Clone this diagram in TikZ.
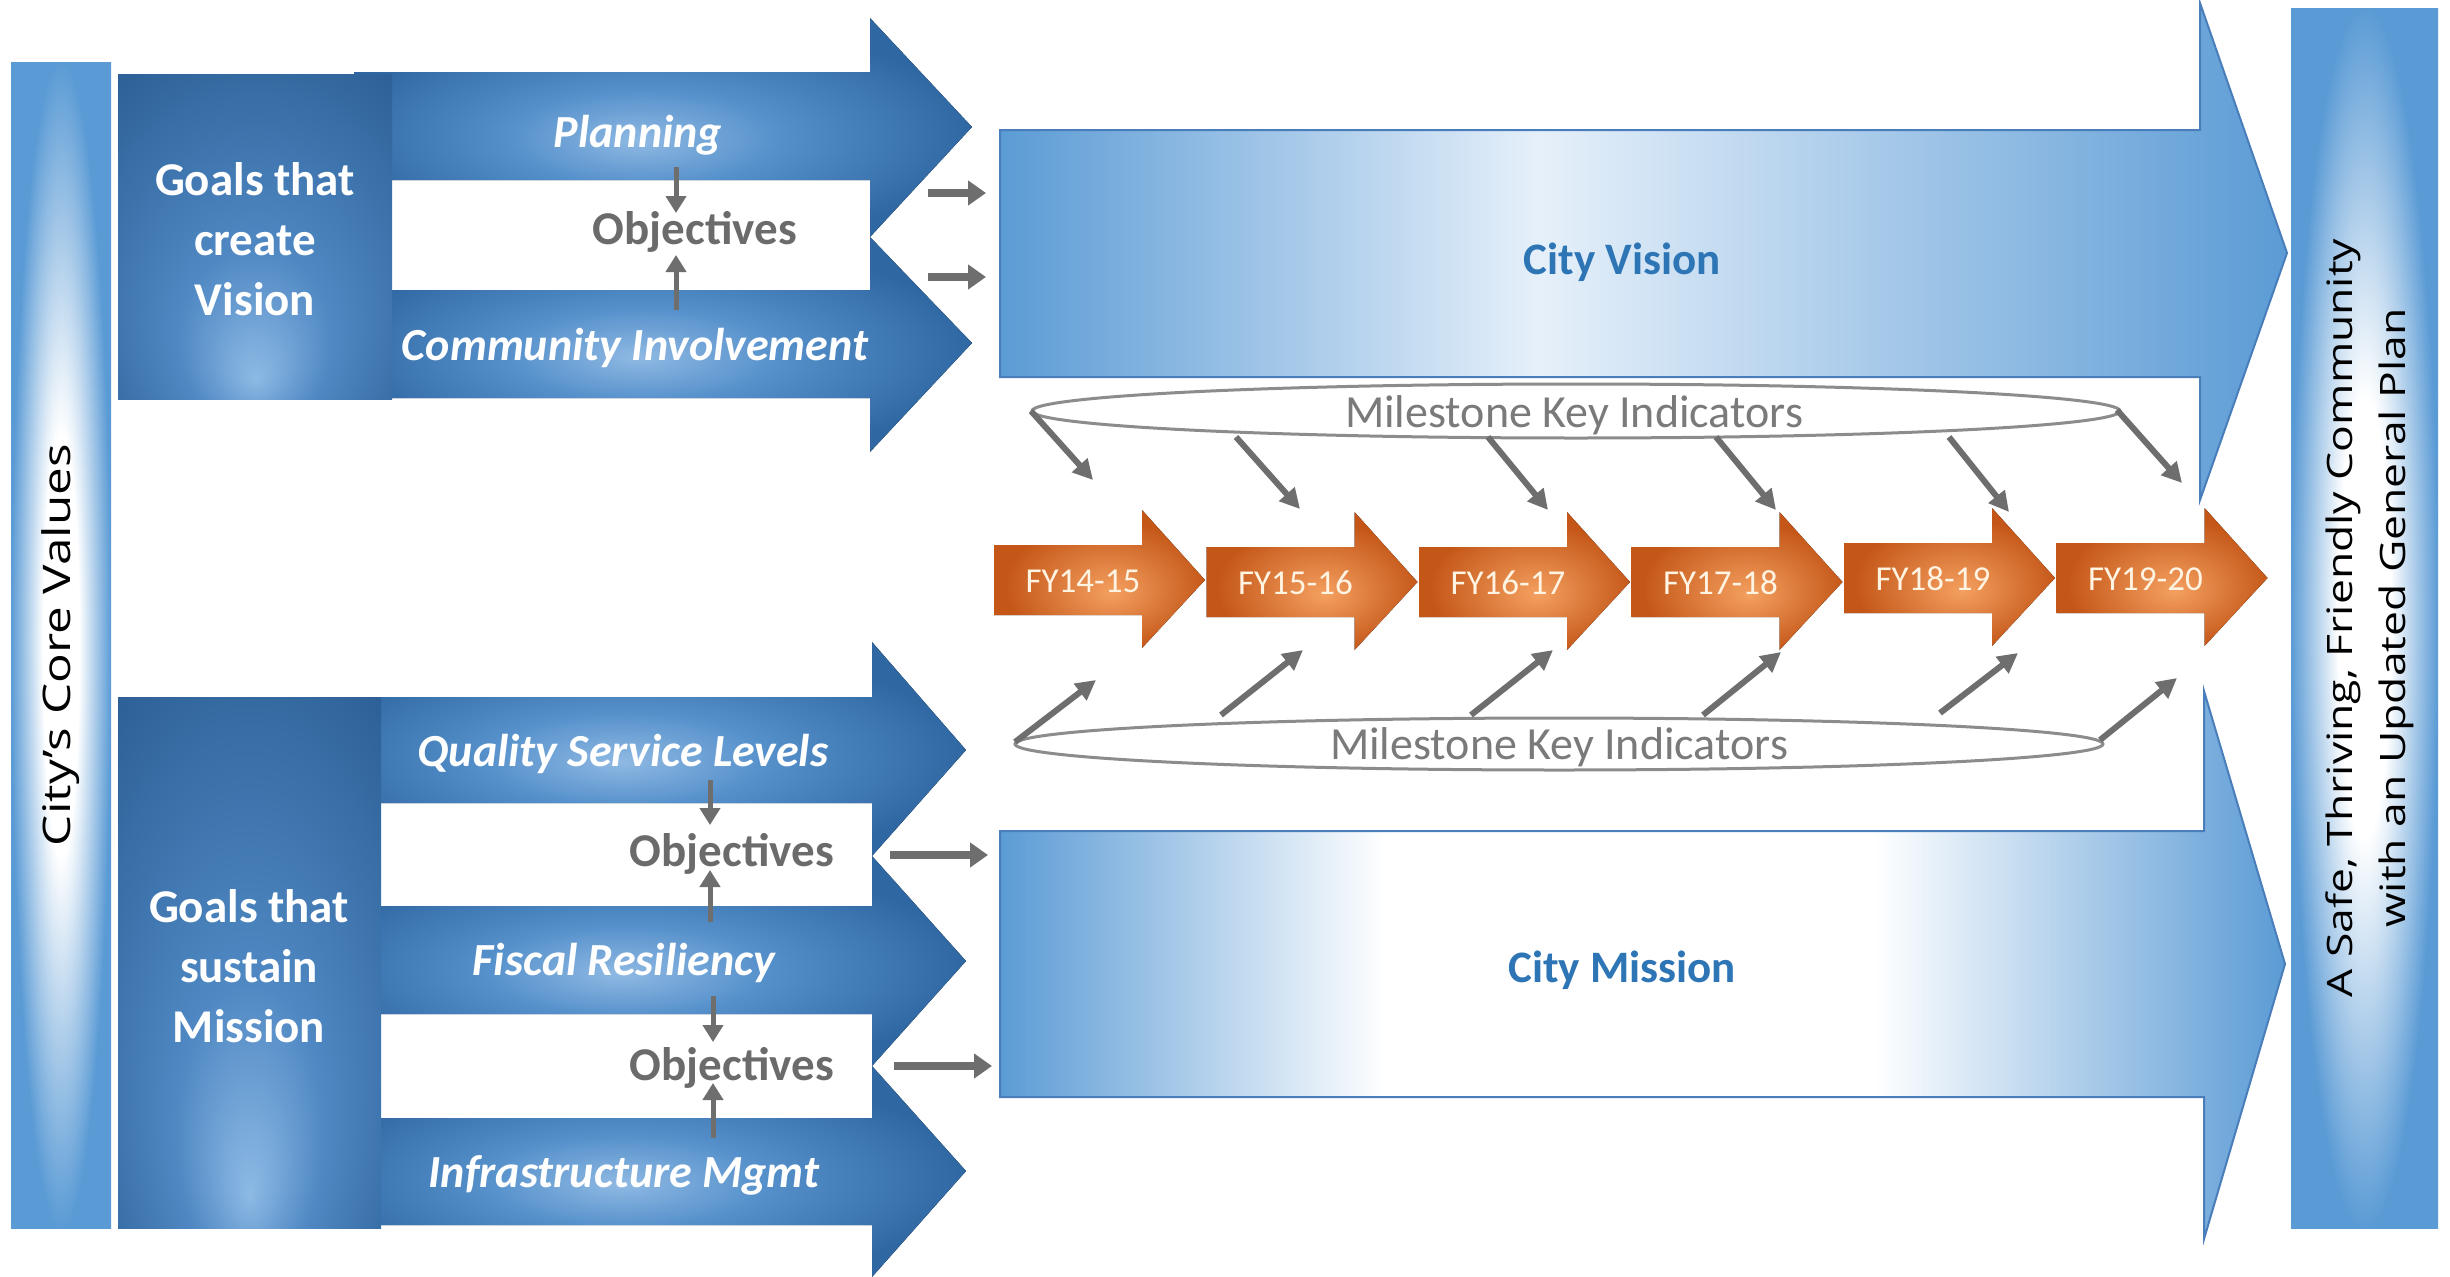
\documentclass[tikz,border=0pt]{standalone}
\usepackage{fontspec}
\setmainfont{Carlito}
\newfontfamily\osans{Open Sans}
\usepackage{graphicx}
\usetikzlibrary{arrows.meta,shapes.geometric}

\definecolor{gD}{HTML}{2B5E94}
\definecolor{gM}{HTML}{4F88C3}
\definecolor{gL}{HTML}{8DBAE5}
\definecolor{aD}{HTML}{2F67A2}
\definecolor{aM}{HTML}{5590CB}
\definecolor{aL}{HTML}{8FB9E3}
\definecolor{bB}{HTML}{5B9BD5}
\definecolor{bW}{HTML}{FFFFFF}
\definecolor{bV}{HTML}{E6F0FA}
\definecolor{fD}{HTML}{C45718}
\definecolor{fL}{HTML}{F4A060}
\definecolor{gr}{HTML}{6E6E6E}
\definecolor{objg}{HTML}{6B6B6B}
\definecolor{mkg}{HTML}{7A7A7A}
\definecolor{ellg}{HTML}{8C8C8C}
\definecolor{btxt}{HTML}{2E75B6}
\definecolor{fytxt}{HTML}{FFF3E2}
\definecolor{edgeb}{HTML}{4A7EBB}

\pgfdeclareradialshading{goalglow}{\pgfpoint{0bp}{-22bp}}{color(0bp)=(gL); color(14bp)=(gM); color(40bp)=(gD); color(50bp)=(gD)}
\pgfdeclareradialshading{arrglow}{\pgfpoint{-2bp}{-3bp}}{color(0bp)=(aL); color(11bp)=(aM); color(26bp)=(aD); color(50bp)=(aD)}
\pgfdeclarehorizontalshading{visshade}{100bp}{color(0bp)=(bB); color(25bp)=(bB); color(46bp)=(bV); color(75bp)=(bB); color(100bp)=(bB)}
\pgfdeclarehorizontalshading{misshade}{100bp}{color(0bp)=(bB); color(25bp)=(bB); color(40bp)=(bW); color(59bp)=(bW); color(75bp)=(bB); color(100bp)=(bB)}
\pgfdeclareradialshading{barglow}{\pgfpoint{0bp}{0bp}}{color(0bp)=(bW); color(9bp)=(bW); color(25bp)=(bB); color(50bp)=(bB)}
\pgfdeclareradialshading{fyglow}{\pgfpoint{3bp}{-5bp}}{color(0bp)=(fL); color(24bp)=(fD); color(50bp)=(fD)}

\tikzset{
  goalbox/.style={shading=goalglow},
  bluearrow/.style={shading=arrglow},
  bar/.style={shading=barglow},
  fyarrow/.style={shading=fyglow},
  goaltext/.style={inner sep=0pt, text=white, align=center, font=\bfseries\fontsize{47}{60}\selectfont},
  armlabel/.style={inner sep=0pt, text=white, font=\bfseries\itshape\fontsize{46}{55}\selectfont},
  objtext/.style={inner sep=0pt, text=objg, font=\bfseries\fontsize{47}{56}\selectfont},
  bigtext/.style={inner sep=0pt, text=btxt, font=\bfseries\fontsize{45}{54}\selectfont},
  mktext/.style={inner sep=0pt, text=mkg, font=\fontsize{46}{55}\selectfont},
  fytext/.style={inner sep=0pt, text=fytxt, font=\fontsize{35}{42}\selectfont},
  mkell/.style={ellipse, draw=ellg, line width=3pt, fill=white, inner sep=0pt},
  garrow/.style={draw=gr, line width=6pt, -{Triangle[length=20pt,width=20pt]}},
  sarrow/.style={draw=gr, line width=5pt, -{Triangle[length=17pt,width=20pt]}},
  harrow/.style={draw=gr, line width=8pt, -{Triangle[length=18pt,width=24pt]}},
  bartext/.style={inner sep=0pt, rotate=90, align=center, font=\osans\fontsize{35}{53}\selectfont},
}

\begin{document}
\begin{tikzpicture}[x=1pt,y=-1pt]
\fill[white] (0,0) rectangle (2450,1277);
\useasboundingbox (0,0) rectangle (2450,1277);

% side bars
\fill[bar] (11,62) rectangle (111,1228);
\fill[bar] (2291,8) rectangle (2438,1228);
\node[bartext, font=\osans\fontsize{38}{46}\selectfont] (core) at (61,645)
  {\scalebox{1.3}[1]{City’s Core Values}};
\node[bartext] (goal) at (2370,618)
  {\scalebox{1.27}[1]{A Safe, Thriving, Friendly Community}\\
   \scalebox{1.27}[1]{with an Updated General Plan}};

% big arrows
\path[shading=visshade, draw=edgeb, line width=2pt]
  (1000,130) -- (2200,130) -- (2200,3) -- (2287,253) -- (2200,500) -- (2200,377) -- (1000,377) -- cycle;
\path[shading=misshade, draw=edgeb, line width=2pt]
  (1000,831) -- (2204,831) -- (2204,691) -- (2285,964) -- (2204,1239) -- (2204,1097) -- (1000,1097) -- cycle;
\node[bigtext] (vision) at (1622,262) {City Vision};
\node[bigtext] (mission) at (1622,970) {City Mission};

% milestone ellipses
\node[mkell, minimum width=1088pt, minimum height=54pt] (mkA) at (1576,411) {};
\node[mkell, minimum width=1088pt, minimum height=52pt] (mkB) at (1559,744) {};
\node[mktext] (mkAt) at (1574,415) {Milestone Key Indicators};
\node[mktext] (mkBt) at (1559,747) {Milestone Key Indicators};

% FY arrows
\foreach \i/\lab/\dy in {0/FY14-15/0, 1/FY15-16/2, 2/FY16-17/2, 3/FY17-18/2, 4/FY18-19/-2, 5/FY19-20/-2} {
  \pgfmathsetmacro\xa{994+212.5*\i}
  \fill[fyarrow] (\xa,545+\dy) -- ++(148,0) -- ++(0,-35) -- ++(63,70) -- ++(-63,68) -- ++(0,-33) -- ++(-148,0) -- cycle;
  \node[fytext] (fy\i) at (\xa+89,581+\dy) {\lab};
}

% milestone arrows
\foreach \n/\ax/\ay/\bx/\by in {1/1031/411/1093/480, 2/1236/437/1300/509, 3/1488/437/1548/510, 4/1716/437/1776/510, 5/1949/437/2009/512, 6/2117/410/2182/483} {
  \coordinate (ts\n) at (\ax,\ay);
  \coordinate (te\n) at (\bx,\by);
  \draw[garrow] (ts\n) -- (te\n);
}
\foreach \n/\ax/\ay/\bx/\by in {1/1015/742/1096/680, 2/1221/715/1303/650, 3/1471/715/1553/650, 4/1703/715/1781/652, 5/1940/713/2018/653, 6/2100/740/2177/678} {
  \coordinate (bs\n) at (\ax,\ay);
  \coordinate (be\n) at (\bx,\by);
  \draw[garrow] (bs\n) -- (be\n);
}

% goal arrows (vision side)
\fill[bluearrow] (354,72) -- (870,72) -- (870,18) -- (972,127) -- (870,237) -- (870,180) -- (354,180) -- cycle;
\fill[bluearrow] (354,290) -- (870,290) -- (870,237) -- (972,343) -- (870,452) -- (870,398) -- (354,398) -- cycle;
% goal arrows (mission side)
\fill[bluearrow] (325,697) -- (872,697) -- (872,642) -- (966,750) -- (872,856) -- (872,803) -- (325,803) -- cycle;
\fill[bluearrow] (325,906) -- (872,906) -- (872,856) -- (966,961) -- (872,1066) -- (872,1014) -- (325,1014) -- cycle;
\fill[bluearrow] (325,1118) -- (872,1118) -- (872,1066) -- (966,1171) -- (872,1277) -- (872,1225) -- (325,1225) -- cycle;

% goal boxes
\fill[goalbox] (118,74) rectangle (392,399);
\fill[goalbox] (118,697) rectangle (381,1228);
\node[goaltext] (gv) at (255,239) {Goals that\\create\\Vision};
\node[goaltext] (gm) at (249,966) {Goals that\\sustain\\Mission};

% arm labels
\node[armlabel] (plan) at (638,135) {Planning};
\node[armlabel] (comm) at (635,348) {Community Involvement};
\node[armlabel] (qsl) at (623,754) {Quality Service Levels};
\node[armlabel] (fisc) at (624,963) {Fiscal Resiliency};
\node[armlabel] (infra) at (624,1175) {Infrastructure Mgmt};

% objectives
\node[objtext] (objA) at (695,232) {Objectives};
\node[objtext] (objB) at (732,854) {Objectives};
\node[objtext] (objC) at (732,1068) {Objectives};

% small vertical arrows
\coordinate (pa1) at (676,167); \coordinate (pa2) at (676,213);
\coordinate (pa3) at (676,310); \coordinate (pa4) at (676,255);
\coordinate (qa1) at (710,780); \coordinate (qa2) at (710,825);
\coordinate (qa3) at (710,922); \coordinate (qa4) at (710,870);
\coordinate (fa1) at (713,996); \coordinate (fa2) at (713,1042);
\coordinate (fa3) at (713,1138); \coordinate (fa4) at (713,1083);
\draw[sarrow] (pa1) -- (pa2);
\draw[sarrow] (pa3) -- (pa4);
\draw[sarrow] (qa1) -- (qa2);
\draw[sarrow] (qa3) -- (qa4);
\draw[sarrow] (fa1) -- (fa2);
\draw[sarrow] (fa3) -- (fa4);

% horizontal arrows into big arrows
\coordinate (ha1) at (928,193); \coordinate (hb1) at (986,193);
\coordinate (ha2) at (928,277); \coordinate (hb2) at (986,277);
\coordinate (ha3) at (890,855); \coordinate (hb3) at (988,855);
\coordinate (ha4) at (894,1066); \coordinate (hb4) at (992,1066);
\draw[harrow] (ha1) -- (hb1);
\draw[harrow] (ha2) -- (hb2);
\draw[harrow] (ha3) -- (hb3);
\draw[harrow] (ha4) -- (hb4);
\end{tikzpicture}
\end{document}
